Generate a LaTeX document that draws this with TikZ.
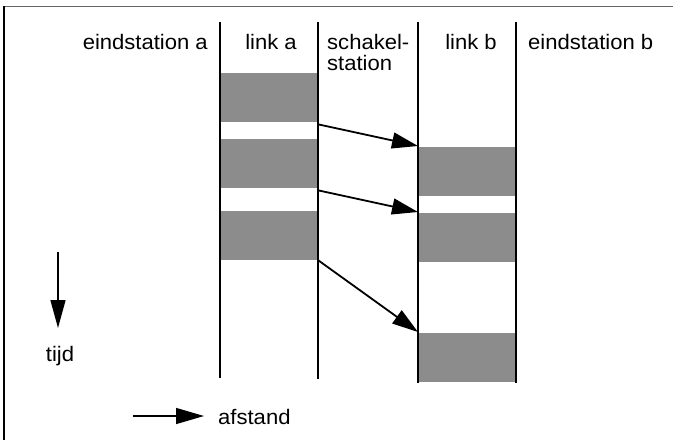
\documentclass[tikz,border=0pt]{standalone}
\usepackage{fontspec}
\setmainfont{Liberation Sans}[FakeStretch=1.05]
\usetikzlibrary{arrows.meta}
\begin{document}
\begin{tikzpicture}[x=1pt,y=-1pt,
  lbl/.style={font=\fontsize{21}{24}\selectfont, inner sep=0pt},
  slot/.style={fill=black!45, draw=none, minimum width=98pt, minimum height=49pt, inner sep=0pt, anchor=north west},
  lane/.style={line width=1.3pt},
  msg/.style={line width=1.8pt, -{Triangle[length=26pt,width=16pt]}},
  axis/.style={line width=1.4pt}]
\useasboundingbox (0,0) rectangle (673,440);
% frame
\draw[black!60, line width=1pt] (4,6.5) -- (673,6.5);
\draw[line width=2pt] (4,6) -- (4,440);
% packets
\node[slot] (a1) at (220,73) {};
\node[slot] (a2) at (220,139) {};
\node[slot] (a3) at (220,211) {};
\node[slot] (b1) at (418,147) {};
\node[slot] (b2) at (418,213) {};
\node[slot] (b3) at (418,333) {};
% lanes
\coordinate (la1t) at (220,22); \coordinate (la1b) at (220,378);
\coordinate (la2t) at (318,22); \coordinate (la2b) at (318,379);
\coordinate (lb1t) at (418,22); \coordinate (lb1b) at (418,383);
\coordinate (lb2t) at (516,22); \coordinate (lb2b) at (516,383);
\draw[lane] (la1t) -- (la1b);
\draw[lane] (la2t) -- (la2b);
\draw[lane, line width=1.6pt] (lb1t) -- (lb1b);
\draw[lane, line width=1.6pt] (lb2t) -- (lb2b);
% forwarding arrows
\draw[msg] ([yshift=-2pt]a1.south east) -- ([yshift=1pt]b1.north west);
\draw[msg] ([yshift=-2pt]a2.south east) -- ([yshift=1pt]b2.north west);
\draw[msg] (a3.south east) -- ([yshift=1pt]b3.north west);
% labels
\node[lbl, anchor=base east] (ea) at (208,49) {eindstation a};
\node[lbl, anchor=base] (lka) at (271,49) {link a};
\node[lbl, anchor=base west] (sk1) at (327,49) {schakel-};
\node[lbl, anchor=base west] (sk2) at (327,70.5) {station};
\node[lbl, anchor=base] (lkb) at (471,49) {link b};
\node[lbl, anchor=base west] (eb) at (528,49) {eindstation b};
% time axis
\coordinate (t0) at (58,252);
\coordinate (t1) at (58,328);
\draw[axis, -{Triangle[length=28pt,width=15pt]}] (t0) -- (t1);
\node[lbl, anchor=base] (tijd) at (60,361) {tijd};
% distance axis
\coordinate (d0) at (133,416);
\coordinate (d1) at (204,416);
\draw[axis, -{Triangle[length=28pt,width=16pt]}] (d0) -- (d1);
\node[lbl, anchor=base west] (afst) at (218,424) {afstand};
\end{tikzpicture}
\end{document}
